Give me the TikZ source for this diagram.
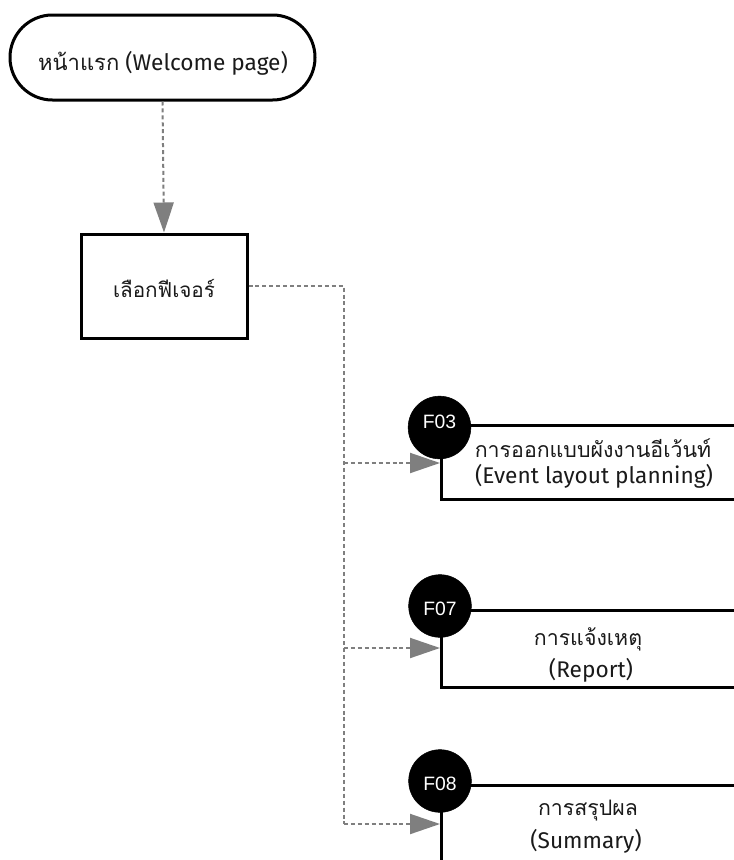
\documentclass[tikz,border=0pt]{standalone}
\usepackage{fontspec}
\setmainfont{Fira Sans}
\newfontfamily\badgefont{Liberation Sans}
\newfontfamily\thai[Script=Thai]{Loma}
\usetikzlibrary{arrows.meta}
\definecolor{flowgray}{HTML}{7F7F7F}
\definecolor{inkgray}{HTML}{1A1A1A}
\tikzset{
  terminal/.style={draw=black, line width=2.25pt, rounded corners=31.8pt,
    minimum width=228.75pt, minimum height=63.75pt, inner sep=0pt},
  process/.style={draw=black, line width=2.25pt, minimum width=124.5pt,
    minimum height=78pt, inner sep=0pt},
  feature/.style={draw=black, line width=1.9pt, minimum width=225pt, inner sep=0pt, anchor=north west},
  badge/.style={circle, fill=black, draw=black, minimum size=47pt, inner sep=0pt},
  badgetext/.style={text=white, font=\badgefont\fontsize{14.5}{16}\selectfont, anchor=base},
  label/.style={text=inkgray, font=\fontsize{17}{19}\selectfont, anchor=base, inner sep=0pt},
  thailabel/.style={label, font=\thai\fontsize{16}{18}\selectfont},
  flow/.style={draw=flowgray, line width=1.5pt, dash pattern=on 3pt off 2.2pt},
  flowtip/.style={-{Triangle[length=22.5pt, width=15pt, fill=flowgray, color=flowgray]}}
}
\begin{document}
\begin{tikzpicture}[x=0.75pt, y=-0.75pt]
  \useasboundingbox (0,0) rectangle (734,860);
  \clip (0,0) rectangle (734,860);
  \fill[white] (0,0) rectangle (734,860);

  % start page and feature chooser
  \node[terminal] (start) at (162.5,57.5) {};
  \node[label] (starttext) at (163,70) {{\thai\fontsize{16.5}{18}\selectfont หน้าแรก} (Welcome page)};
  \node[process] (select) at (164,286) {};
  \node[thailabel, font=\thai\fontsize{15.5}{18}\selectfont] (selecttext) at (164,297) {เลือกฟีเจอร์};

  % feature boxes (they run past the right edge)
  \node[feature, minimum height=55.5pt] (f03) at (440,424) {};
  \node[feature, minimum height=57.75pt] (f07) at (440,609) {};
  \node[feature, minimum height=60pt] (f08) at (440,784) {};

  \node[thailabel] (f03a) at (593,457) {การออกแบบผังงานอีเว้นท์};
  \node[label] (f03b) at (594,483) {(Event layout planning)};
  \node[thailabel] (f07a) at (588,645) {การแจ้งเหตุ};
  \node[label] (f07b) at (591,677) {(Report)};
  \node[thailabel] (f08a) at (588,815) {การสรุปผล};
  \node[label] (f08b) at (586,848) {(Summary)};

  % numbered badges on the box corners
  \node[badge] (b03) at (439.5,427.5) {};
  \node[badgetext] at (439.5,428) {F03};
  \node[badge] (b07) at (440,606) {};
  \node[badgetext] at (440,615) {F07};
  \node[badge] (b08) at (440,781) {};
  \node[badgetext] at (440,790) {F08};

  % connectors
  \coordinate (t03) at (344,463);
  \coordinate (t07) at (344,648);
  \coordinate (t08) at (344,824);
  \draw[flow, flowtip] (start.south) -- (select.north);
  \draw[flow] (select.east) -| (t08);
  \draw[flow, flowtip] (t03) -- (t03 -| f03.west);
  \draw[flow, flowtip] (t07) -- (t07 -| f07.west);
  \draw[flow, flowtip] (t08) -- (t08 -| f08.west);
\end{tikzpicture}
\end{document}
